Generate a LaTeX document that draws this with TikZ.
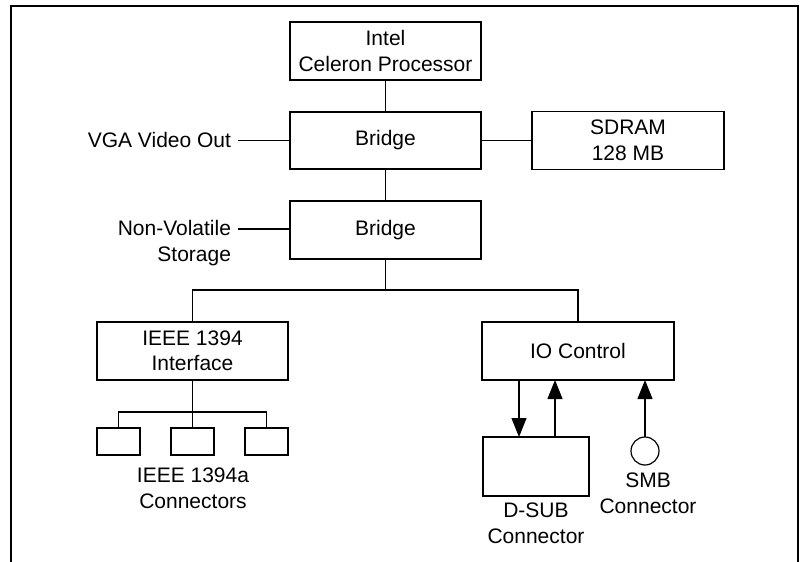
\documentclass[tikz,border=0pt]{standalone}
\usepackage{fontspec}
\setmainfont{Liberation Sans}
\usetikzlibrary{arrows.meta}
\begin{document}
\begin{tikzpicture}[x=1pt,y=-1pt,
  every node/.style={font=\fontsize{21}{25.5}\selectfont, inner sep=0pt, outer sep=0pt},
  blk/.style={draw, line width=1.2pt, align=center},
  lbl/.style={align=center},
  conn/.style={line width=1.1pt},
  arr/.style={line width=1.1pt, -{Triangle[length=19pt,width=15pt]}}
]
\useasboundingbox (0,0) rectangle (801,562);
% frame
\draw[line width=2.4pt] (11,562) -- (11,6) -- (798,6) -- (798,562);

% blocks
\node[blk, minimum width=191pt, minimum height=58pt] (intel) at (385.5,51) {Intel\\Celeron Processor};
\node[blk, minimum width=191pt, minimum height=57pt] (br1) at (385.5,140.5) {Bridge};
\node[blk, minimum width=192pt, minimum height=58pt] (sdram) at (628,140.5) {SDRAM\\128 MB};
\node[blk, minimum width=191pt, minimum height=58pt] (br2) at (385.5,230) {Bridge};
\node[blk, minimum width=191pt, minimum height=58pt] (ieee) at (192.5,351) {IEEE 1394\\Interface};
\node[blk, minimum width=192pt, minimum height=58pt] (io) at (578,351) {IO Control};
\node[blk, minimum width=43pt, minimum height=27pt] (c1) at (118.5,441.5) {};
\node[blk, minimum width=43pt, minimum height=27pt] (c2) at (192.5,441.5) {};
\node[blk, minimum width=43pt, minimum height=27pt] (c3) at (266.5,441.5) {};
\node[blk, minimum width=106pt, minimum height=59pt] (dsub) at (536,466.5) {};
\node[draw, circle, line width=1.2pt, minimum size=28pt] (smb) at (645,451) {};

% labels (base anchor = baseline of last line)
\node[anchor=base east] (vga) at (231,147) {VGA Video Out};
\node[anchor=base east, align=right] (nv) at (231,261) {Non-Volatile\\Storage};
\node[anchor=base, lbl] (ieeel) at (193,508) {IEEE 1394a\\Connectors};
\node[anchor=base, lbl] (dsubl) at (536,543) {D-SUB\\Connector};
\node[anchor=base, lbl] (smbl) at (648,513) {SMB\\Connector};

% connectors
\coordinate (vgaend) at (238,140.5);
\coordinate (nvend) at (238,229);
\coordinate (bus) at (385.5,290);
\coordinate (j) at (192.5,412);
\draw[conn] (intel.south) -- (br1.north);
\draw[conn] (vgaend) -- (br1.west);
\draw[conn] (br1.east) -- (sdram.west);
\draw[conn] (br1.south) -- (br2.north);
\draw[conn] (nvend) -- (nvend -| br2.west);
\draw[conn] (br2.south) -- (bus);
\draw[conn] (ieee.north) |- (bus) -| (io.north);
\draw[conn] (ieee.south) -- (c2.north);
\draw[conn] (c1.north) |- (j) -| (c3.north);
\path ([xshift=-17pt]dsub.north) coordinate (din) ([xshift=19pt]dsub.north) coordinate (dout);
\draw[arr] (din |- io.south) -- (din);
\draw[arr] (dout) -- (dout |- io.south);
\draw[arr] (smb.north) -- (smb.north |- io.south);
\end{tikzpicture}
\end{document}
